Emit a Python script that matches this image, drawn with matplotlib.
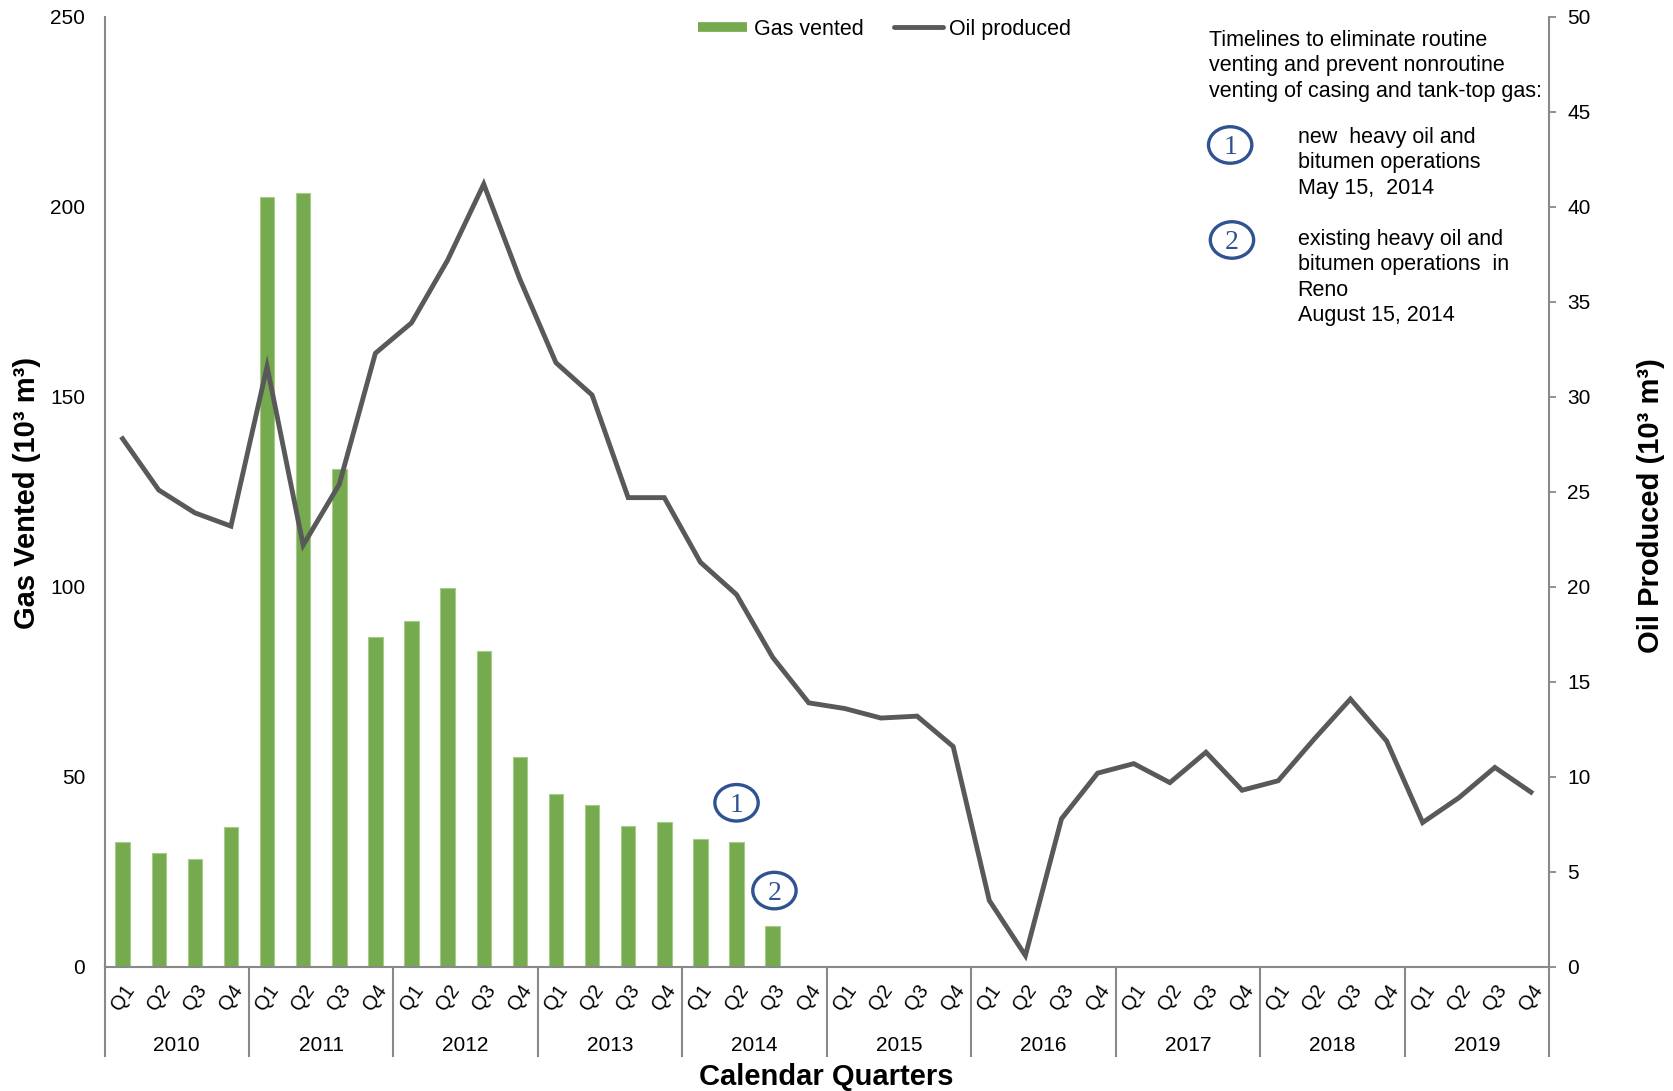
import numpy as np
import matplotlib
matplotlib.use("Agg")
import matplotlib.pyplot as plt
from matplotlib.patches import Ellipse
from matplotlib.lines import Line2D

plt.rcParams['font.family'] = ['Liberation Sans', 'DejaVu Sans']

years = ["2010", "2011", "2012", "2013", "2014", "2015", "2016", "2017", "2018", "2019"]
quarters = ["Q1", "Q2", "Q3", "Q4"]

# gas vented, 10^3 m3 (no venting reported after 2014 Q3)
gas_vented = [33, 30, 28.4, 36.8,
              202.5, 203.7, 131, 86.8,
              91, 99.7, 83.1, 55.3,
              45.5, 42.7, 37.1, 38.2,
              33.7, 32.9, 10.7]

# oil produced, 10^3 m3
oil_produced = [27.8, 25.1, 23.9, 23.2,
                31.6, 22.2, 25.4, 32.3,
                33.9, 37.2, 41.2, 36.2,
                31.8, 30.1, 24.7, 24.7,
                21.3, 19.6, 16.3, 13.9,
                13.6, 13.1, 13.2, 11.6,
                3.5, 0.6, 7.8, 10.2,
                10.7, 9.7, 11.3, 9.3,
                9.8, 12.0, 14.1, 11.9,
                7.6, 8.9, 10.5, 9.2]

green = '#75AB4E'
grey_line = '#595959'
axis_grey = '#898989'
blue = '#2F5290'

n = len(years) * len(quarters)
x = np.arange(n)
qlabels = quarters * len(years)

fig = plt.figure(figsize=(16.73, 10.91), dpi=100)
ax = fig.add_axes([0.0625, 0.1137, 0.8634, 0.8708])
ax2 = ax.twinx()

ax.bar(x[:len(gas_vented)], gas_vented, width=0.4, color=green,
       edgecolor='#A6CB8D', linewidth=0.8)
ax2.plot(x, oil_produced, color=grey_line, linewidth=3.5, solid_joinstyle='miter')

ax.set_xlim(-0.5, n - 0.5)
ax.set_ylim(0, 250)
ax2.set_ylim(0, 50)
ax.set_yticks(np.arange(0, 251, 50))
ax2.set_yticks(np.arange(0, 51, 5))

ax.set_xticks(x)
ax.set_xticklabels(qlabels, rotation=55)
ax.tick_params(axis='x', length=0, pad=10, labelsize=14.5)
ax.tick_params(axis='y', length=0, pad=14, labelsize=15)
ax2.tick_params(axis='y', length=5, width=1.3, color=axis_grey, pad=8, labelsize=15,
                direction='out')

for s in ['top', 'right']:
    ax.spines[s].set_visible(False)
for s in ['top', 'left', 'bottom']:
    ax2.spines[s].set_visible(False)
for sp in [ax.spines['left'], ax.spines['bottom'], ax2.spines['right']]:
    sp.set_color(axis_grey)
    sp.set_linewidth(1.5)

# year groups under the quarter labels
xt = ax.get_xaxis_transform()
for i, yr in enumerate(years):
    ax.text(i * 4 + 1.5, -0.0825, yr, transform=xt, ha='center', va='center', fontsize=15)
for i in range(len(years) + 1):
    ax.plot([i * 4 - 0.5, i * 4 - 0.5], [0, -0.094], transform=xt, color=axis_grey,
            linewidth=1.5, clip_on=False)

fig.text(0.016, 0.548, 'Gas Vented (10³ m³)', rotation=90, ha='center', va='center',
         fontsize=21, fontweight='bold')
fig.text(0.987, 0.537, 'Oil Produced (10³ m³)', rotation=90, ha='center', va='center',
         fontsize=21, fontweight='bold')
fig.text(0.494, 0.0125, 'Calendar Quarters', ha='center', va='center',
         fontsize=21, fontweight='bold')

handles = [Line2D([], [], color=green, linewidth=7, solid_capstyle='butt'),
           Line2D([], [], color=grey_line, linewidth=3.5, solid_capstyle='round')]
ax2.legend(handles, ['Gas vented', 'Oil produced'], loc='center', bbox_to_anchor=(0.54, 0.987),
           ncol=2, frameon=False, fontsize=15.5, handlelength=2.3, handletextpad=0.3,
           columnspacing=1.4)

# notes on the right
ax.text(30.08, 237.1, 'Timelines to eliminate routine\nventing and prevent nonroutine\n'
        'venting of casing and tank-top gas:', ha='left', va='center', fontsize=15.5,
        linespacing=1.27)
ax.text(32.54, 211.6, 'new  heavy oil and\nbitumen operations\nMay 15,  2014',
        ha='left', va='center', fontsize=15.5, linespacing=1.27)
ax.text(32.54, 181.4, 'existing heavy oil and\nbitumen operations  in\nReno\nAugust 15, 2014',
        ha='left', va='center', fontsize=15.5, linespacing=1.27)


def marker(xc, yc, label):
    ax.add_patch(Ellipse((xc, yc), 1.2, 9.6, fill=False, edgecolor=blue, linewidth=2.4,
                         zorder=5))
    ax.text(xc, yc, label, ha='center', va='center_baseline', fontsize=20,
            family='Liberation Serif', color=blue, zorder=6)


marker(30.67, 216.3, '1')
marker(30.72, 191.3, '2')
marker(17.0, 43.2, '1')
marker(18.05, 20.1, '2')

fig.savefig('out.png', dpi=100)
